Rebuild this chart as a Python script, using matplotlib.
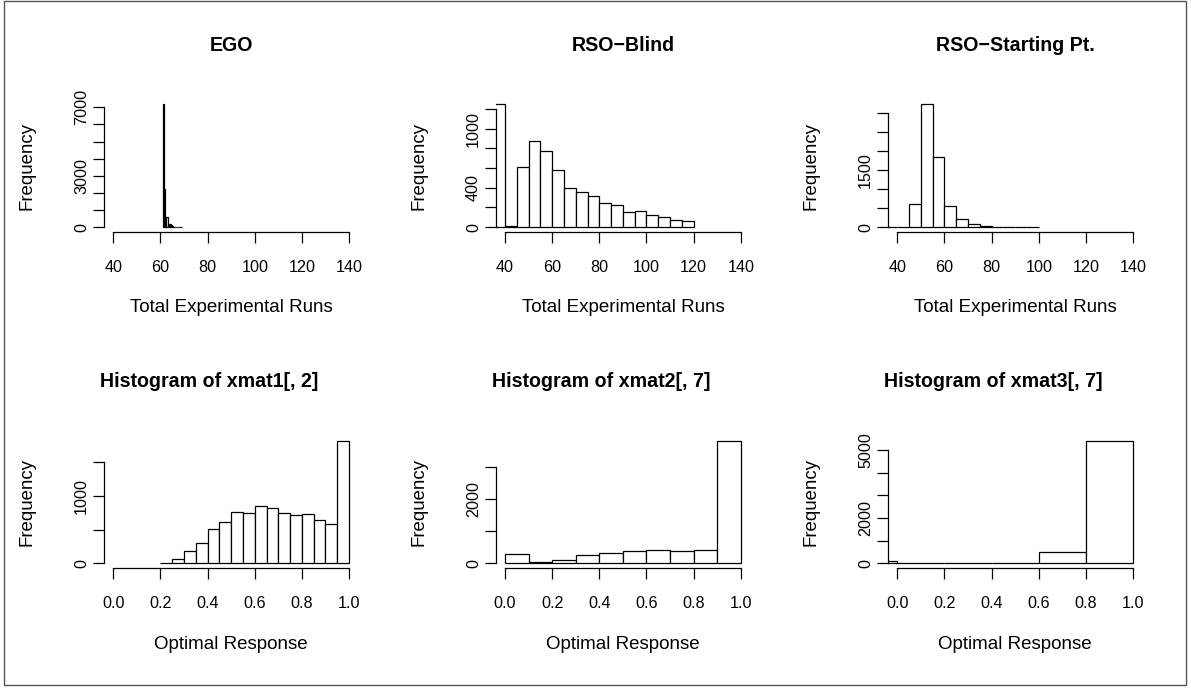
import matplotlib.pyplot as plt
import numpy as np
from matplotlib.patches import Rectangle

plt.rcParams['font.family'] = ['Liberation Sans', 'DejaVu Sans']

# bin breaks and counts
ego_edges = np.round(np.arange(61, 69.01, 0.5), 2)
ego_counts = [7180, 2250, 590, 590, 200, 200, 200, 100, 40, 30, 25, 20, 15, 12, 10, 8]

blind_edges = np.arange(35, 121, 5)
blind_counts = [1249, 10, 612, 874, 772, 578, 398, 357, 316, 245, 221, 153, 163, 119, 102, 75, 58]

start_edges = np.arange(35, 101, 5)
start_counts = [3, 4, 599, 3237, 1839, 562, 203, 79, 35, 15, 8, 5, 3]

x1_edges = np.round(np.arange(0.2, 1.001, 0.05), 2)
x1_counts = [10, 59, 186, 304, 510, 614, 761, 737, 840, 816, 737, 717, 732, 634, 584, 1808]

x2_edges = np.round(np.arange(0.0, 1.001, 0.1), 2)
x2_counts = [281, 31, 94, 250, 322, 384, 406, 394, 406, 3831]

x3_edges = [-0.2, 0.0, 0.2, 0.4, 0.6, 0.8, 1.0]
x3_counts = [100, 27, 10, 40, 512, 5408]

titles = ['EGO', 'RSO\u2212Blind', 'RSO\u2212Starting Pt.',
          'Histogram of xmat1[, 2]', 'Histogram of xmat2[, 7]', 'Histogram of xmat3[, 7]']
xlabels = ['Total Experimental Runs'] * 3 + ['Optimal Response'] * 3

runs_ticks = [40, 60, 80, 100, 120, 140]
resp_ticks = [0.0, 0.2, 0.4, 0.6, 0.8, 1.0]
resp_labels = ['0.0', '0.2', '0.4', '0.6', '0.8', '1.0']

# y ticks and which of them carry a label
y_ticks = [range(0, 7001, 1000), range(0, 1201, 200), range(0, 3001, 500),
           range(0, 1501, 500), range(0, 3001, 1000), range(0, 5001, 1000)]
y_shown = [[0, 3000, 7000], [0, 400, 1000], [0, 1500],
           [0, 1000], [0, 2000], [0, 2000, 5000]]

edges_all = [ego_edges, blind_edges, start_edges, x1_edges, x2_edges, x3_edges]
counts_all = [ego_counts, blind_counts, start_counts, x1_counts, x2_counts, x3_counts]

W, H = 1191, 690
fig = plt.figure(figsize=(W / 100, H / 100), dpi=100)

lefts = [103.9, 495.6, 887.9]
tops = [99.4, 435.8]
pw, ph = 254.6, 132.6
lw = 0.9

for i in range(6):
    r, c = divmod(i, 3)
    ax = fig.add_axes([lefts[c] / W, (H - tops[r] - ph) / H, pw / W, ph / H])
    e = np.asarray(edges_all[i], dtype=float)
    cnt = counts_all[i]
    ax.bar(e[:-1], cnt, width=np.diff(e), align='edge', color='white',
           edgecolor='black', linewidth=lw)
    m = max(cnt)
    ax.set_ylim(-0.04 * m, 1.04 * m)
    if r == 0:
        ax.set_xlim(36, 144)
        ax.set_xticks(runs_ticks)
        ax.set_xticklabels([str(t) for t in runs_ticks])
        ax.spines['bottom'].set_bounds(40, 140)
    else:
        ax.set_xlim(-0.04, 1.04)
        ax.set_xticks(resp_ticks)
        ax.set_xticklabels(resp_labels)
        ax.spines['bottom'].set_bounds(0, 1)
    yt = list(y_ticks[i])
    ax.set_yticks(yt)
    ax.set_yticklabels([str(v) if v in y_shown[i] else '' for v in yt])
    ax.spines['left'].set_bounds(0, yt[-1])
    for s in ['top', 'right']:
        ax.spines[s].set_visible(False)
    for s in ['left', 'bottom']:
        ax.spines[s].set_linewidth(lw)
    ax.tick_params(axis='x', length=7.6, width=lw, pad=12.3, labelsize=11.6)
    ax.tick_params(axis='y', length=7.6, width=lw, pad=3.0, labelsize=11.6,
                   labelrotation=90)
    for lab in ax.get_yticklabels():
        lab.set_va('center')
    # the lower titles sit a little left of the panel centre in the original
    tx = 0.5 if r == 0 else 0.5 - 22 / pw
    ax.set_title(titles[i], fontsize=14.1, fontweight='bold', pad=35, x=tx)
    ax.set_xlabel(xlabels[i], fontsize=13.5)
    ax.xaxis.set_label_coords(0.5, -76 / ph)
    ax.xaxis.label.set_va('center')
    ax.set_ylabel('Frequency', fontsize=13.4)
    ax.yaxis.set_label_coords(-77 / pw, 0.5)
    ax.yaxis.label.set_va('center')

fig.patches.append(Rectangle((4 / W, 1 - 685 / H), 1182 / W, 684 / H,
                             transform=fig.transFigure, fill=False,
                             edgecolor='#555555', linewidth=1))

fig.savefig('out.png', dpi=100)
